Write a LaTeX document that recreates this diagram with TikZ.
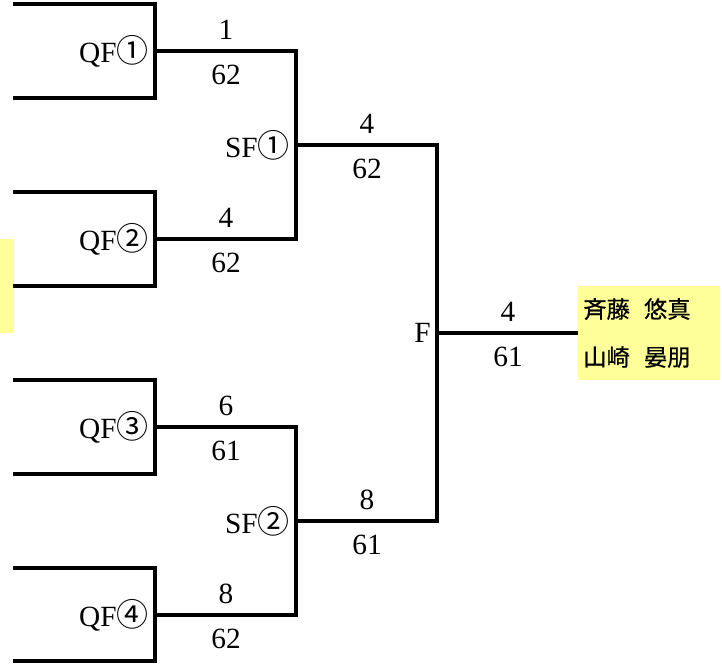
\documentclass[tikz,border=0pt]{standalone}
\usepackage{fontspec}
\setmainfont{Liberation Serif}
\newfontfamily\jpfont{Noto Sans CJK JP}
\newfontfamily\namefont[FakeBold=0.6]{Noto Sans CJK JP}
\usetikzlibrary{positioning,calc}
\definecolor{lightyellow}{HTML}{FFFF99}

\begin{document}
\begin{tikzpicture}[
x=0.75pt, y=-0.75pt,
bracket/.style={line width=2.6pt},
score/.style={inner sep=0pt, font=\fontsize{22}{26}\selectfont},
round/.style={inner sep=0pt, anchor=east, font=\fontsize{22}{26}\selectfont},
winner/.style={fill=lightyellow, anchor=west, minimum width=106.5pt, minimum height=70.5pt, inner sep=3.5pt, align=left, text width=99pt, font=\namefont\fontsize{17.5}{36}\selectfont}
]
\useasboundingbox (0,0) rectangle (722,667);
\fill[lightyellow] (0,239) rectangle (14,333);

% match points
\coordinate (qf1) at (155,51);
\coordinate (qf2) at (155,239);
\coordinate (qf3) at (155,427);
\coordinate (qf4) at (155,615);
\coordinate (sf1) at (296,145);
\coordinate (sf2) at (296,521);
\coordinate (f) at (437,333);
\node[winner] (champ) at (578,333) {斉藤\hspace{0.6em}悠真\\山崎\hspace{0.6em}晏朋};

% quarter-final boxes
\draw[bracket] (13,4) -| (qf1) |- (13,98);
\draw[bracket] (13,192) -| (qf2) |- (13,286);
\draw[bracket] (13,380) -| (qf3) |- (13,474);
\draw[bracket] (13,568) -| (qf4) |- (13,661);

\draw[bracket] (qf1) -| (sf1);
\draw[bracket] (qf2) -| (sf1);
\draw[bracket] (qf3) -| (sf2);
\draw[bracket] (qf4) -| (sf2);
\draw[bracket] (sf1) -| (f);
\draw[bracket] (sf2) -| (f);
\draw[bracket] (f) -- (champ.west);

\node[round] (qf1lab) at (149,51) {QF{\jpfont\fontsize{24}{26}\selectfont ①}};
\node[round] (qf2lab) at (149,239) {QF{\jpfont\fontsize{24}{26}\selectfont ②}};
\node[round] (qf3lab) at (149,427) {QF{\jpfont\fontsize{24}{26}\selectfont ③}};
\node[round] (qf4lab) at (149,615) {QF{\jpfont\fontsize{24}{26}\selectfont ④}};
\node[round] (sf1lab) at (290,145) {SF{\jpfont\fontsize{24}{26}\selectfont ①}};
\node[round] (sf2lab) at (290,521) {SF{\jpfont\fontsize{24}{26}\selectfont ②}};
\node[round] (flab) at (431,333) {F};

\node[score] (qf1a) at (226,30) {1};
\node[score] (qf1b) at (226,75) {62};
\node[score] (qf2a) at (226,218) {4};
\node[score] (qf2b) at (226,263) {62};
\node[score] (qf3a) at (226,406) {6};
\node[score] (qf3b) at (226,451) {61};
\node[score] (qf4a) at (226,594) {8};
\node[score] (qf4b) at (226,639) {62};
\node[score] (sf1a) at (367,124) {4};
\node[score] (sf1b) at (367,169) {62};
\node[score] (sf2a) at (367,500) {8};
\node[score] (sf2b) at (367,545) {61};
\node[score] (fa) at (508,312) {4};
\node[score] (fb) at (508,357) {61};
\end{tikzpicture}
\end{document}
